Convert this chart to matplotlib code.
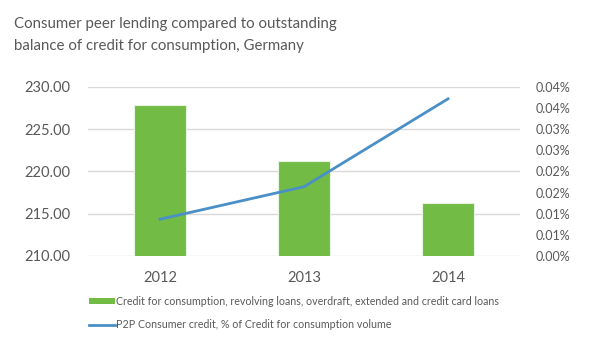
import matplotlib
matplotlib.use("Agg")
import matplotlib.pyplot as plt
from matplotlib.lines import Line2D
from matplotlib.patches import Patch

plt.rcParams['font.family'] = ['Lato', 'DejaVu Sans']

years = ["2012", "2013", "2014"]
credit = [227.85, 221.2, 216.3]
p2p_pct = [0.0087, 0.0164, 0.0372]
left_ticks = [210, 215, 220, 225, 230]
right_ticks = [0.0, 0.005, 0.01, 0.015, 0.02, 0.025, 0.03, 0.035, 0.04]
right_labels = ["0.00%", "0.01%", "0.01%", "0.02%", "0.02%", "0.03%", "0.03%", "0.04%", "0.04%"]
title_lines = ["Consumer peer lending compared to outstanding",
               "balance of credit for consumption, Germany"]
bar_label = "Credit for consumption, revolving loans, overdraft, extended and credit card loans"
line_label = "P2P Consumer credit, % of Credit for consumption volume"

green = "#72BB44"
blue = "#4A8FC6"
gray = "#595959"

fig = plt.figure(figsize=(6, 3.42), dpi=100)
ax = fig.add_axes([88/600, 1-256/342, 432/600, 169/342])
x = list(range(len(years)))
ax.bar(x, credit, width=0.36, color=green, edgecolor="#E8F2E0", linewidth=0.8, zorder=2)
ax.set_ylim(210, 230)
ax.set_xlim(-0.5, 2.5)
ax.set_yticks(left_ticks)
ax.set_yticklabels([f"{v:.2f}" for v in left_ticks])
ax.set_xticks(x)
ax.set_xticklabels(years)
ax.grid(axis='y', color="#D9D9D9", linewidth=1, zorder=0)
ax.set_axisbelow(True)
for s in ax.spines.values():
    s.set_visible(False)
ax.tick_params(axis='both', length=0, colors=gray, labelsize=10.5)
ax.tick_params(axis='y', pad=12.5)
ax.tick_params(axis='x', pad=11)

ax2 = ax.twinx()
ax2.plot(x, p2p_pct, color=blue, linewidth=2, zorder=3)
ax2.set_ylim(0, 0.04)
ax2.set_yticks(right_ticks)
ax2.set_yticklabels(right_labels)
for s in ax2.spines.values():
    s.set_visible(False)
ax2.tick_params(axis='y', length=0, colors=gray, labelsize=9, pad=11)

fig.text(14/600, 1-28/342, title_lines[0], color=gray, fontsize=10.8, ha='left', va='baseline')
fig.text(14/600, 1-50/342, title_lines[1], color=gray, fontsize=10.8, ha='left', va='baseline')

handles = [Patch(facecolor=green, edgecolor='none'),
           Line2D([0], [0], color=blue, linewidth=2)]
leg = fig.legend(handles, [bar_label, line_label], loc='upper left',
                 bbox_to_anchor=(89/600, 1-296/342), frameon=False, fontsize=7.65,
                 borderpad=0, borderaxespad=0,
                 handlelength=2.45, handleheight=0.55, handletextpad=0.1, labelspacing=1.15)
for t in leg.get_texts():
    t.set_color(gray)

fig.savefig("out.png", dpi=100)
